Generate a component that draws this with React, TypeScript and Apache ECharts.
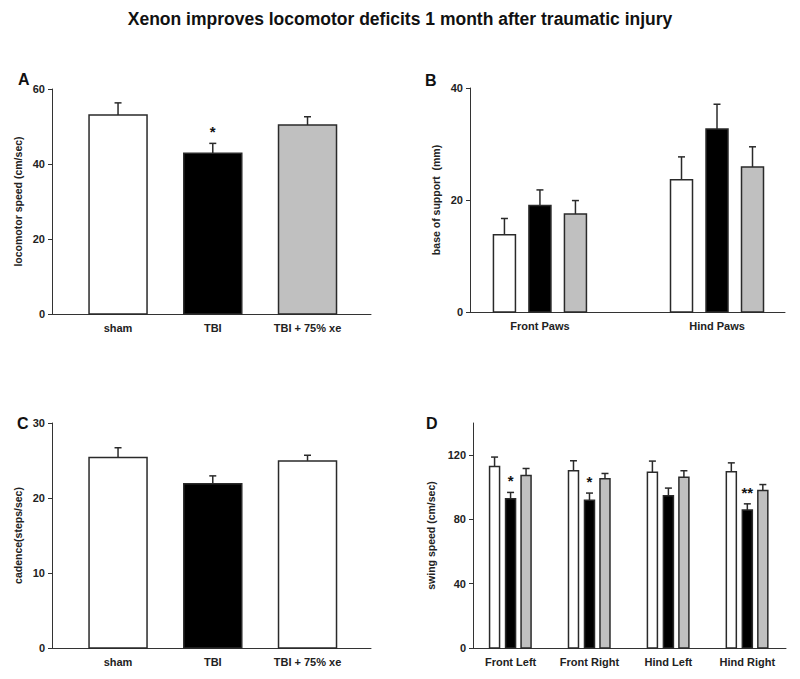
import React, { useEffect, useRef } from "react";
import * as echarts from "echarts";

const TITLE = "Xenon improves locomotor deficits 1 month after traumatic injury";

// Panel A: locomotor speed
const groupCats = ["sham", "TBI", "TBI + 75% xe"];
const speedMean = [53.1, 42.9, 50.4];
const speedErr = [3.2, 2.6, 2.2];
const speedSig = ["", "*", ""];

// Panel B: base of support
const pawCats = ["Front Paws", "Hind Paws"];
const bosSham = [13.8, 23.6];
const bosShamErr = [2.9, 4.1];
const bosTbi = [19.0, 32.7];
const bosTbiErr = [2.8, 4.4];
const bosXe = [17.5, 25.9];
const bosXeErr = [2.4, 3.6];

// Panel C: cadence
const cadenceMean = [25.4, 21.9, 24.95];
const cadenceErr = [1.3, 1.05, 0.75];

// Panel D: swing speed
const limbCats = ["Front Left", "Front Right", "Hind Left", "Hind Right"];
const swingSham = [112.9, 110.3, 109.4, 109.6];
const swingShamErr = [5.9, 6.2, 6.9, 5.6];
const swingTbi = [92.8, 92.0, 94.7, 85.8];
const swingTbiErr = [4.0, 4.4, 4.8, 3.9];
const swingXe = [107.3, 105.3, 106.3, 98.0];
const swingXeErr = [4.4, 3.3, 4.0, 3.7];
const swingTbiSig = ["*", "*", "", "**"];

const FONT = '"Liberation Sans", Arial, Helvetica, sans-serif';
const WHITE = "#ffffff";
const BLACK = "#000000";
const GRAY = "#c0c0c0";
const EDGE = "#2a2a2a";

function barSeries(
  axisIdx: number,
  means: number[],
  errs: number[],
  fills: string[],
  offsetPx: number,
  widthPx: number,
  sig: string[] | null
) {
  return {
    type: "custom",
    xAxisIndex: axisIdx,
    yAxisIndex: axisIdx,
    clip: false,
    silent: true,
    data: means.map((m, i) => [i, m, errs[i]]),
    encode: { x: 0, y: [1] },
    renderItem: (params: any, api: any) => {
      const x = api.value(0);
      const v = api.value(1);
      const e = api.value(2);
      const base = api.coord([x, 0]);
      const top = api.coord([x, v]);
      const et = api.coord([x, v + e]);
      const cx = base[0] + offsetPx;
      const fill = fills[params.dataIndex % fills.length];
      const children: any[] = [
        {
          type: "line",
          shape: { x1: cx, y1: top[1], x2: cx, y2: et[1] },
          style: { stroke: EDGE, lineWidth: 1.5 },
        },
        {
          type: "line",
          shape: { x1: cx - 3.5, y1: et[1], x2: cx + 3.5, y2: et[1] },
          style: { stroke: EDGE, lineWidth: 1.5 },
        },
        {
          type: "rect",
          shape: { x: cx - widthPx / 2, y: top[1], width: widthPx, height: base[1] - top[1] },
          style: { fill, stroke: EDGE, lineWidth: 1.5 },
        },
      ];
      const s = sig ? sig[params.dataIndex] : "";
      if (s) {
        children.push({
          type: "text",
          x: cx,
          y: et[1] - 4,
          style: {
            text: s,
            fill: "#111",
            font: `bold 15px ${FONT}`,
            align: "center",
            verticalAlign: "bottom",
            textAlign: "center",
            textVerticalAlign: "bottom",
          },
        });
      }
      return { type: "group", children };
    },
  };
}

function xAxisDef(gridIndex: number, cats: string[], min: number, max: number) {
  return {
    type: "value",
    gridIndex,
    min,
    max,
    splitLine: { show: false },
    axisLine: { show: true, onZero: false, lineStyle: { color: "#333", width: 1 } },
    axisTick: { show: false },
    axisLabel: {
      customValues: cats.map((_, i) => i),
      formatter: (v: number) => cats[Math.round(v)] ?? "",
      color: "#222",
      fontFamily: FONT,
      fontWeight: "bold",
      fontSize: 11,
      margin: 8,
    },
  };
}

function yAxisDef(
  gridIndex: number,
  name: string,
  max: number,
  interval: number,
  nameGap: number,
  ticks: number[]
) {
  return {
    type: "value",
    gridIndex,
    min: 0,
    max,
    interval,
    name,
    nameLocation: "middle",
    nameGap,
    nameTextStyle: { fontFamily: FONT, fontWeight: "bold", fontSize: 10.5, color: "#222" },
    splitLine: { show: false },
    axisLine: { show: true, onZero: false, lineStyle: { color: "#333", width: 1 } },
    axisTick: { show: true, length: 4, customValues: ticks, lineStyle: { color: "#333" } },
    axisLabel: {
      customValues: ticks,
      color: "#222",
      fontFamily: FONT,
      fontWeight: "bold",
      fontSize: 11,
      margin: 7,
    },
  };
}

export default function App() {
  const ref = useRef<HTMLDivElement>(null);

  useEffect(() => {
    document.body.style.margin = "0";
    if (!ref.current) return;
    const chart = echarts.init(ref.current, null, { renderer: "svg" });

    const panelTitle = (text: string, left: number, top: number) => ({
      text,
      left,
      top,
      textStyle: { fontFamily: FONT, fontWeight: "bold", fontSize: 16, color: "#111" },
      padding: 0,
    });

    const option: any = {
      animation: false,
      backgroundColor: "#ffffff",
      title: [
        {
          text: TITLE,
          left: "center",
          top: 10,
          padding: 0,
          textStyle: { fontFamily: FONT, fontWeight: "bold", fontSize: 17.5, color: "#111" },
        },
        panelTitle("A", 18, 71),
        panelTitle("B", 425, 72),
        panelTitle("C", 17, 415),
        panelTitle("D", 426, 415),
      ],
      grid: [
        { left: 52, top: 89, width: 319, height: 225 },
        { left: 470, top: 88, width: 315, height: 224 },
        { left: 52, top: 423, width: 319, height: 225 },
        { left: 473, top: 423, width: 313, height: 225 },
      ],
      xAxis: [
        xAxisDef(0, groupCats, -0.697, 2.67),
        xAxisDef(1, pawCats, -0.395, 1.384),
        xAxisDef(2, groupCats, -0.697, 2.67),
        xAxisDef(3, limbCats, -0.476, 3.49),
      ],
      yAxis: [
        yAxisDef(0, "locomotor speed (cm/sec)", 60, 20, 29, [0, 20, 40, 60]),
        yAxisDef(1, "base of support  (mm)", 40, 20, 29, [0, 20, 40]),
        yAxisDef(2, "cadence(steps/sec)", 30, 10, 29, [0, 10, 20, 30]),
        yAxisDef(3, "swing speed (cm/sec)", 140, 20, 37, [0, 40, 80, 120]),
      ],
      series: [
        barSeries(0, speedMean, speedErr, [WHITE, BLACK, GRAY], 0, 58, speedSig),
        barSeries(1, bosSham, bosShamErr, [WHITE], -35.5, 22, null),
        barSeries(1, bosTbi, bosTbiErr, [BLACK], 0, 22, null),
        barSeries(1, bosXe, bosXeErr, [GRAY], 35.5, 22, null),
        barSeries(2, cadenceMean, cadenceErr, [WHITE, BLACK, WHITE], 0, 58, null),
        barSeries(3, swingSham, swingShamErr, [WHITE], -16, 10, null),
        barSeries(3, swingTbi, swingTbiErr, [BLACK], 0, 10, swingTbiSig),
        barSeries(3, swingXe, swingXeErr, [GRAY], 15.5, 10, null),
      ],
    };

    chart.setOption(option);
    return () => chart.dispose();
  }, []);

  return <div ref={ref} style={{ width: 800, height: 679 }} />;
}
